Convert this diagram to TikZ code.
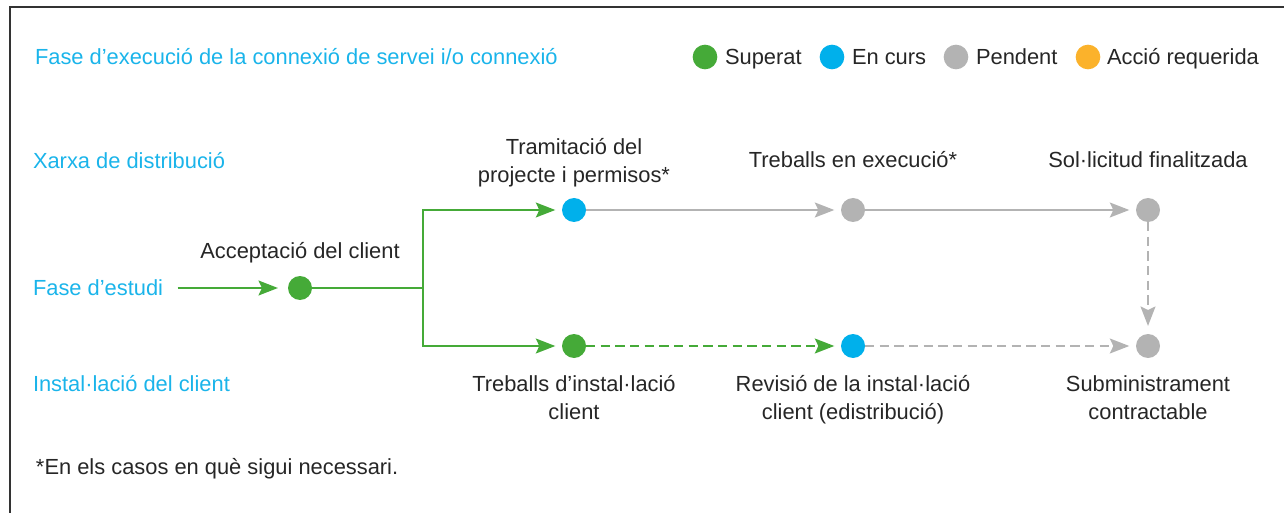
\documentclass[tikz,border=0pt]{standalone}
\usepackage{fontspec}
\setmainfont{Liberation Sans}
\usetikzlibrary{arrows.meta}
\definecolor{cgreen}{HTML}{45AA38}
\definecolor{cblue}{HTML}{00B0EB}
\definecolor{cgrey}{HTML}{B3B3B3}
\definecolor{corange}{HTML}{FBB22B}
\definecolor{ctext}{HTML}{1AB4EA}
\definecolor{cdark}{HTML}{262626}
\begin{document}
\begin{tikzpicture}[x=0.75pt,y=-0.75pt,
  every node/.style={font=\fontsize{16.4}{21}\selectfont, inner sep=0pt, outer sep=0pt},
  dot/.style={circle, fill=#1, minimum size=18pt, inner sep=0pt},
  legdot/.style={circle, fill=#1, minimum size=18.5pt, inner sep=0pt},
  rowlabel/.style={text=ctext, anchor=base west},
  lbl/.style={text=cdark, align=center, anchor=base},
  legtext/.style={text=cdark, anchor=base west},
  tip/.style={-{Stealth[length=14.5pt,width=11pt,inset=2.5pt]}},
  gline/.style={line width=2.2pt, cgreen},
  pline/.style={line width=2.2pt, cgrey},
  dashes/.style={dash pattern=on 7pt off 4pt},
]
\useasboundingbox (0,0) rectangle (1284,513);
% frame (top and left edges)
\draw[line width=1.4pt, black!80] (1284,7) -- (10,7) -- (10,513);

% title and legend
\node[rowlabel] (title) at (35,65) {Fase d’execució de la connexió de servei i/o connexió};
\node[legdot=cgreen]  (lg1) at (705,57) {};
\node[legtext] (lt1) at (725,65) {Superat};
\node[legdot=cblue]   (lg2) at (832,57) {};
\node[legtext] (lt2) at (852,65) {En curs};
\node[legdot=cgrey]   (lg3) at (956,57) {};
\node[legtext] (lt3) at (976,65) {Pendent};
\node[legdot=corange] (lg4) at (1088,57) {};
\node[legtext] (lt4) at (1107,65) {Acció requerida};

% row labels
\node[rowlabel] (xarxa) at (33,169) {Xarxa de distribució};
\node[text=ctext, anchor=west, text height=11.9pt, text depth=0pt] (fase) at (33,288) {Fase d’estudi};
\node[rowlabel] (inst)  at (33,391) {Instal·lació del client};

% dots
\node[dot=cgreen] (acc)  at (300,288) {};
\node[dot=cblue]  (tram) at (574,210) {};
\node[dot=cgrey]  (exec) at (853,210) {};
\node[dot=cgrey]  (sol)  at (1148,210) {};
\node[dot=cgreen] (treb) at (574,346) {};
\node[dot=cblue]  (rev)  at (853,346) {};
\node[dot=cgrey]  (sub)  at (1148,346) {};
\coordinate (j) at (423,288);

% labels (base = baseline of last line)
\node[lbl] (laccept) at (300,258) {Acceptació del client};
\node[lbl] (ltram) at (574,183) {Tramitació del\\projecte i permisos*};
\node[lbl] (lexec) at (853,168) {Treballs en execució*};
\node[lbl] (lsol)  at (1148,168) {Sol·licitud finalitzada};
\node[lbl] (ltreb) at (574,419) {Treballs d’instal·lació\\client};
\node[lbl] (lrev)  at (853,419) {Revisió de la instal·lació\\client (edistribució)};
\node[lbl] (lsub)  at (1148,419) {Subministrament\\contractable};

% footnote
\node[legtext] (foot) at (36,474) {*En els casos en què sigui necessari.};

% connectors
\draw[gline, tip, shorten <=11pt, shorten >=7.5pt] (fase.east) -- (acc.west);
\draw[gline] (acc) -- (j);
\draw[gline, tip, shorten >=5pt] (j) |- (tram);
\draw[gline, tip, shorten >=5pt] (j) |- (treb);
\draw[pline, tip, shorten >=5pt] (tram) -- (exec);
\draw[pline, tip, shorten >=5pt] (exec) -- (sol);
\draw[gline, dashes, tip, shorten >=5pt] (treb) -- (rev);
\draw[pline, dashes, tip, shorten >=5pt] (rev) -- (sub);
\draw[pline, dashes, tip, shorten >=6pt] (sol) -- (sub);
\end{tikzpicture}
\end{document}
